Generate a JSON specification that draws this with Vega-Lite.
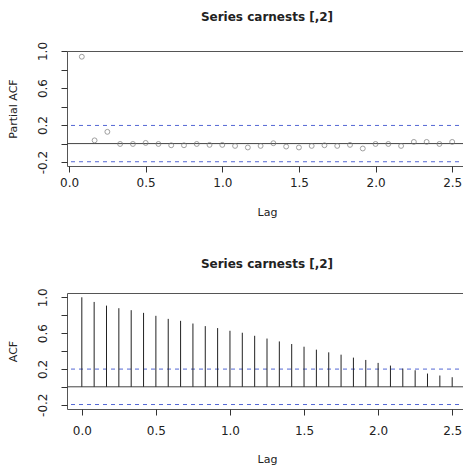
{
  "$schema": "https://vega.github.io/schema/vega-lite/v6.json",
  "padding": {"left": 6, "top": 10, "right": 0, "bottom": 0},
  "spacing": 39,
  "datasets": {
    "pacf": [
      {"lag": 0.0833, "value": 0.938},
      {"lag": 0.1667, "value": 0.035},
      {"lag": 0.25, "value": 0.127},
      {"lag": 0.3333, "value": -0.004},
      {"lag": 0.4167, "value": -0.004},
      {"lag": 0.5, "value": 0.007},
      {"lag": 0.5833, "value": -0.004},
      {"lag": 0.6667, "value": -0.018},
      {"lag": 0.75, "value": -0.018},
      {"lag": 0.8333, "value": -0.004},
      {"lag": 0.9167, "value": -0.014},
      {"lag": 1.0, "value": -0.014},
      {"lag": 1.0833, "value": -0.025},
      {"lag": 1.1667, "value": -0.042},
      {"lag": 1.25, "value": -0.025},
      {"lag": 1.3333, "value": 0.004},
      {"lag": 1.4167, "value": -0.032},
      {"lag": 1.5, "value": -0.042},
      {"lag": 1.5833, "value": -0.025},
      {"lag": 1.6667, "value": -0.018},
      {"lag": 1.75, "value": -0.025},
      {"lag": 1.8333, "value": -0.014},
      {"lag": 1.9167, "value": -0.053},
      {"lag": 2.0, "value": -0.004},
      {"lag": 2.0833, "value": -0.004},
      {"lag": 2.1667, "value": -0.025},
      {"lag": 2.25, "value": 0.018},
      {"lag": 2.3333, "value": 0.018},
      {"lag": 2.4167, "value": -0.004},
      {"lag": 2.5, "value": 0.018}
    ],
    "acf": [
      {"lag": 0.0, "value": 1.0},
      {"lag": 0.0833, "value": 0.948},
      {"lag": 0.1667, "value": 0.907},
      {"lag": 0.25, "value": 0.878},
      {"lag": 0.3333, "value": 0.856},
      {"lag": 0.4167, "value": 0.826},
      {"lag": 0.5, "value": 0.793},
      {"lag": 0.5833, "value": 0.759},
      {"lag": 0.6667, "value": 0.737},
      {"lag": 0.75, "value": 0.707},
      {"lag": 0.8333, "value": 0.678},
      {"lag": 0.9167, "value": 0.656},
      {"lag": 1.0, "value": 0.626},
      {"lag": 1.0833, "value": 0.604},
      {"lag": 1.1667, "value": 0.57},
      {"lag": 1.25, "value": 0.539},
      {"lag": 1.3333, "value": 0.507},
      {"lag": 1.4167, "value": 0.478},
      {"lag": 1.5, "value": 0.448},
      {"lag": 1.5833, "value": 0.415},
      {"lag": 1.6667, "value": 0.385},
      {"lag": 1.75, "value": 0.359},
      {"lag": 1.8333, "value": 0.326},
      {"lag": 1.9167, "value": 0.3},
      {"lag": 2.0, "value": 0.267},
      {"lag": 2.0833, "value": 0.237},
      {"lag": 2.1667, "value": 0.204},
      {"lag": 2.25, "value": 0.185},
      {"lag": 2.3333, "value": 0.148},
      {"lag": 2.4167, "value": 0.126},
      {"lag": 2.5, "value": 0.107}
    ],
    "clim_top": [{"c": 0.196}, {"c": -0.196}],
    "clim_bottom": [{"c": 0.198}, {"c": -0.198}]
  },
  "config": {
    "font": "DejaVu Sans",
    "view": {"stroke": "#555555", "strokeWidth": 1},
    "axis": {
      "grid": false,
      "domain": false,
      "tickColor": "#333333",
      "tickSize": 6,
      "tickCount": 20,
      "labelOverlap": false,
      "labelFont": "DejaVu Sans",
      "labelFontSize": 12,
      "labelColor": "#222222",
      "titleFont": "DejaVu Sans",
      "titleFontSize": 11,
      "titleFontWeight": "normal",
      "titleColor": "#222222"
    },
    "axisX": {"labelPadding": 5, "titlePadding": 18},
    "axisY": {"labelAngle": 270, "labelAlign": "center", "labelBaseline": "bottom", "labelPadding": 12, "titlePadding": 18},
    "title": {"font": "DejaVu Sans", "fontSize": 12, "fontWeight": "bold", "color": "#222222", "anchor": "middle", "offset": 17}
  },
  "vconcat": [
    {
      "title": "Series carnests [,2]",
      "width": 400,
      "height": 115,
      "layer": [
        {
          "data": {"name": "clim_top"},
          "mark": {"type": "rule", "color": "#5468d4", "strokeDash": [4, 4], "strokeWidth": 1},
          "encoding": {"y": {"field": "c", "type": "quantitative", "scale": {"domain": [-0.242, 1.0], "nice": false, "zero": false},
            "axis": {"title": "Partial ACF", "values": [-0.2, 0, 0.2, 0.4, 0.6, 0.8, 1.0], "tickCount": 20, "labelOverlap": false, "labelBound": false,
              "labelExpr": "datum.value < -0.1 ? '-0.2' : abs(datum.value-0.2)<0.01 ? '0.2' : abs(datum.value-0.6)<0.01 ? '0.6' : abs(datum.value-1)<0.01 ? '1.0' : ''"}}}
        },
        {
          "data": {"values": [{"z": 0}]},
          "mark": {"type": "rule", "color": "#444444", "strokeWidth": 1},
          "encoding": {"y": {"field": "z", "type": "quantitative"}}
        },
        {
          "data": {"name": "pacf"},
          "mark": {"type": "point", "shape": "circle", "filled": false, "color": "#777777", "size": 24, "strokeWidth": 1},
          "encoding": {
            "x": {"field": "lag", "type": "quantitative", "scale": {"domain": [-0.0133, 2.5967], "nice": false, "zero": false},
              "axis": {"title": "Lag", "values": [0, 0.5, 1, 1.5, 2, 2.5], "format": ".1f", "tickCount": 20, "labelOverlap": false}},
            "y": {"field": "value", "type": "quantitative"}
          }
        }
      ]
    },
    {
      "title": "Series carnests [,2]",
      "width": 400,
      "height": 116,
      "layer": [
        {
          "data": {"name": "clim_bottom"},
          "mark": {"type": "rule", "color": "#5468d4", "strokeDash": [4, 4], "strokeWidth": 1},
          "encoding": {"y": {"field": "c", "type": "quantitative", "scale": {"domain": [-0.248, 1.048], "nice": false, "zero": false},
            "axis": {"title": "ACF", "values": [-0.2, 0, 0.2, 0.4, 0.6, 0.8, 1.0], "tickCount": 20, "labelOverlap": false, "labelBound": false,
              "labelExpr": "datum.value < -0.1 ? '-0.2' : abs(datum.value-0.2)<0.01 ? '0.2' : abs(datum.value-0.6)<0.01 ? '0.6' : abs(datum.value-1)<0.01 ? '1.0' : ''"}}}
        },
        {
          "data": {"values": [{"z": 0}]},
          "mark": {"type": "rule", "color": "#444444", "strokeWidth": 1},
          "encoding": {"y": {"field": "z", "type": "quantitative"}}
        },
        {
          "data": {"name": "acf"},
          "mark": {"type": "rule", "color": "#222222", "strokeWidth": 1},
          "encoding": {
            "x": {"field": "lag", "type": "quantitative", "scale": {"domain": [-0.1, 2.6], "nice": false, "zero": false},
              "axis": {"title": "Lag", "values": [0, 0.5, 1, 1.5, 2, 2.5], "format": ".1f", "tickCount": 20, "labelOverlap": false, "labelPadding": 10, "titlePadding": 17}},
            "y": {"field": "value", "type": "quantitative"},
            "y2": {"datum": 0}
          }
        }
      ]
    }
  ]
}
